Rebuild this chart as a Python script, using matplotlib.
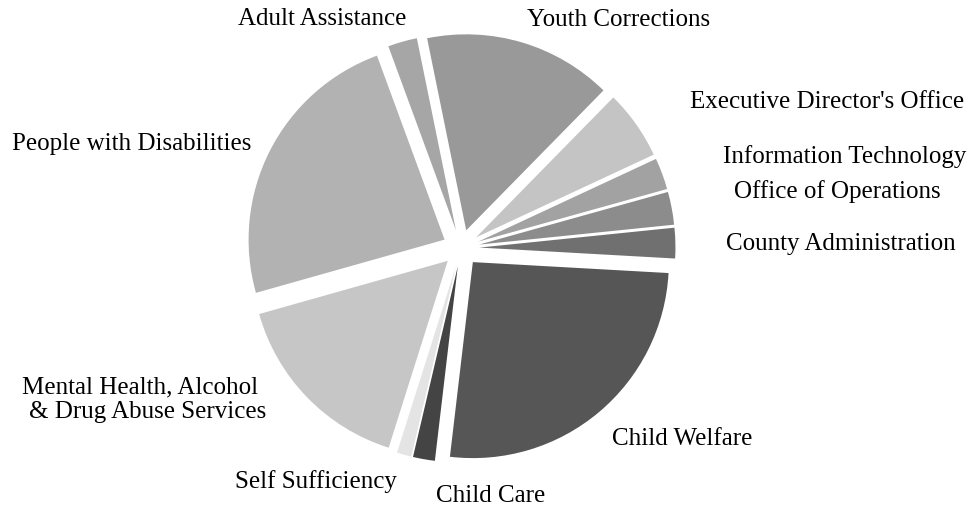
import numpy as np
import matplotlib
matplotlib.use('Agg')
from matplotlib import pyplot as plt

# slices, counter-clockwise starting just below 3 o'clock
labels = ['County Administration', 'Office of Operations', 'Information Technology',
          "Executive Director's Office", 'Youth Corrections', 'Adult Assistance',
          'People with Disabilities', 'Mental Health, Alcohol\n& Drug Abuse Services',
          'Self Sufficiency', 'Child Care', 'Child Welfare']
shares = [2.5, 2.7, 2.6, 5.7, 15.5, 2.4, 23.7, 15.7, 1.2, 1.8, 25.9]
greys = ['#707070', '#8c8c8c', '#a2a2a2', '#c4c4c4', '#999999', '#a6a6a6',
         '#b2b2b2', '#c6c6c6', '#e4e4e4', '#444444', '#565656']

# label anchor points in pixels (x centre, baseline y from top)
label_px = [(841, 250), (837, 198), (845, 163), (827, 108), (619, 26), (322, 25),
            (132, 150), (140, 393), (316, 488), (491, 502), (682, 445)]

W, H = 974, 508
cx, cy, R = 461, 248, 196   # pie centre and radius in pixels

plt.rcParams['font.family'] = ['Liberation Serif', 'DejaVu Serif']

fig = plt.figure(figsize=(W / 100, H / 100), dpi=100)
ax = fig.add_axes([0, 0, 1, 1])
ax.axis('off')

wedges, _ = ax.pie(shares, colors=greys, startangle=-3.2, counterclock=True,
                   explode=[0.094] * len(shares), radius=1,
                   wedgeprops=dict(linewidth=0))

ax.set_aspect('auto')
ax.set_xlim(-cx / R, (W - cx) / R)
ax.set_ylim(-(H - cy) / R, cy / R)

def to_data(px, py):
    return (px - cx) / R, (cy - py) / R

for lab, (px, py) in zip(labels, label_px):
    # multi-line labels: each line 25px lower, later lines nudged right a bit
    for k, line in enumerate(lab.split('\n')):
        x, y = to_data(px + 8 * k, py + 25 * k)
        ax.text(x, y, line, ha='center', va='baseline', fontsize=18)

plt.savefig('out.png', dpi=100)
